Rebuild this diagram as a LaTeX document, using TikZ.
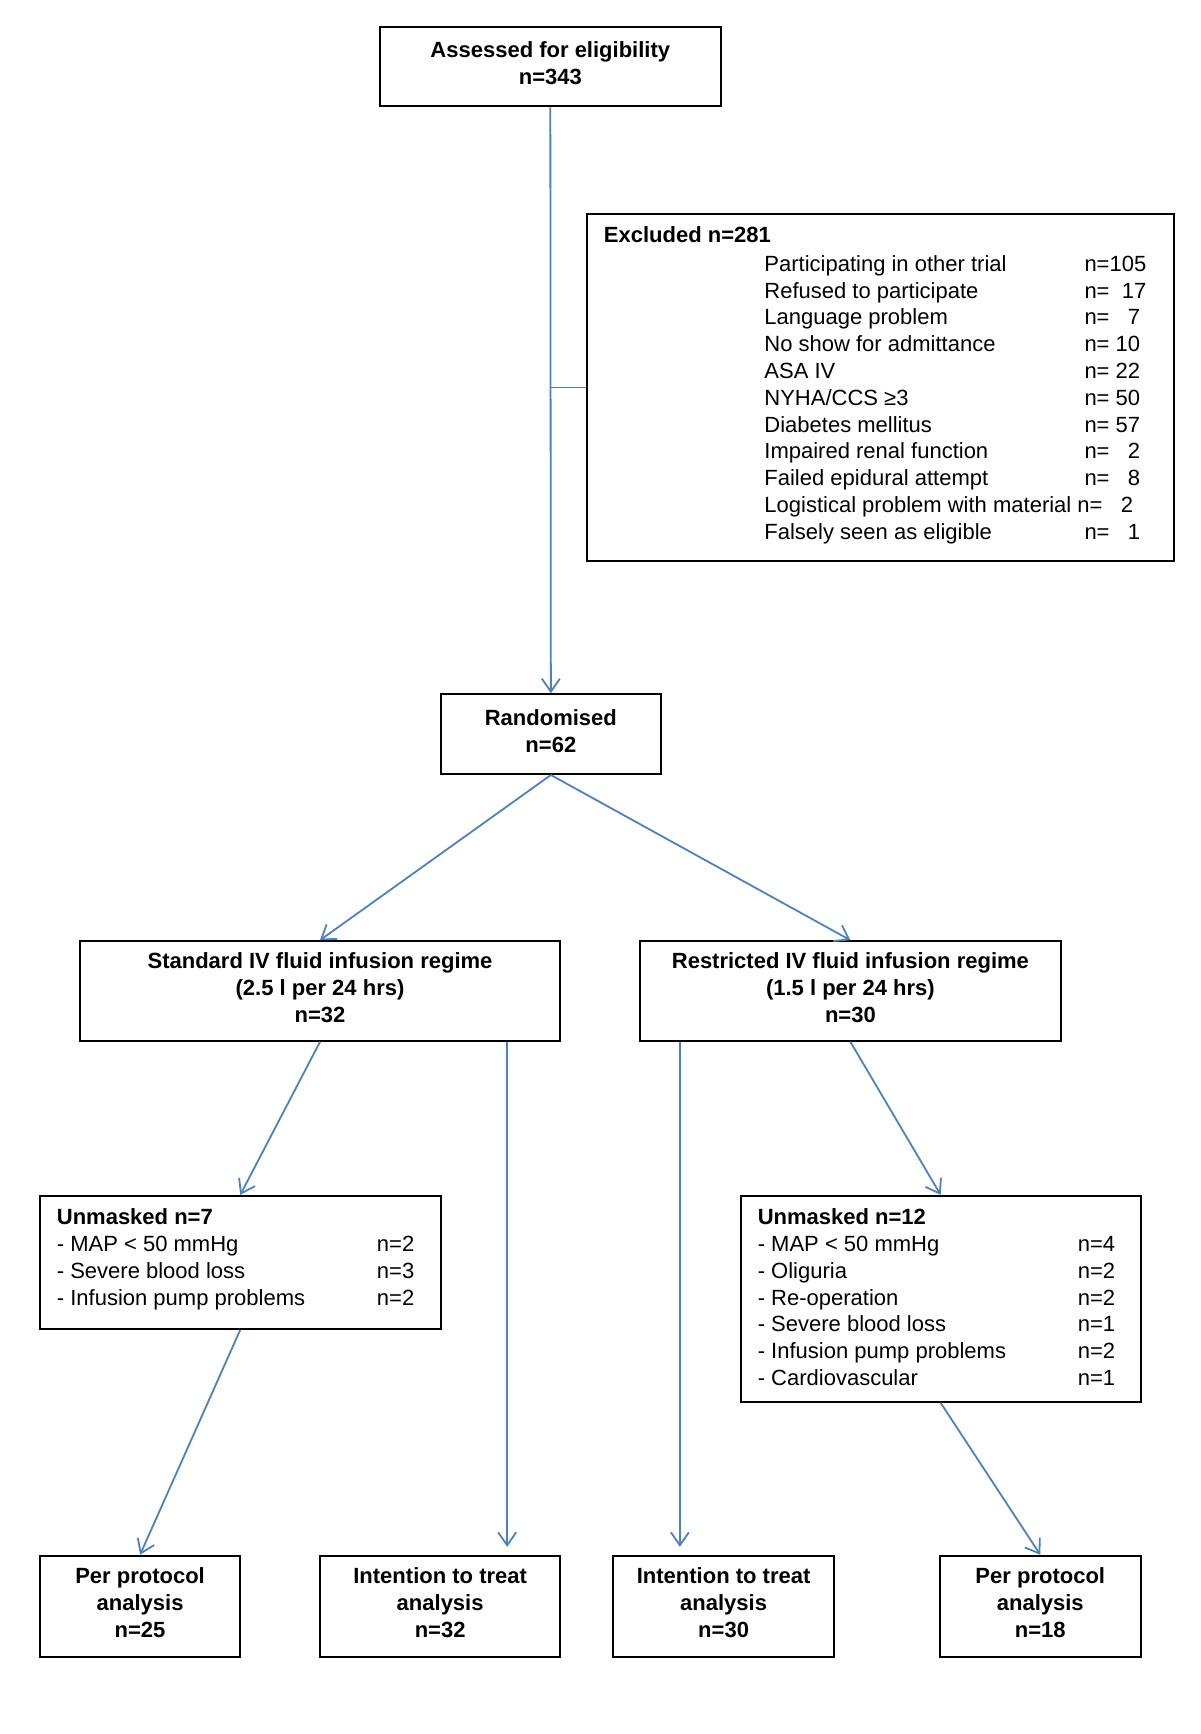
\documentclass[tikz,border=0pt]{standalone}
\usepackage{fontspec}
\setmainfont{Liberation Sans}
\usetikzlibrary{arrows.meta}
\def\pxu{0.5535pt}
\definecolor{lineblue}{HTML}{4F81BD}
\tikzset{
  box/.style={draw=black, line width=1pt, inner sep=0pt, align=center, text depth=3.5pt,
    font=\fontsize{11}{13.4}\selectfont\bfseries},
  listtext/.style={inner sep=0pt, anchor=base west, font=\fontsize{11}{13.4}\selectfont},
  conn/.style={draw=lineblue, line width=0.9pt},
  arr/.style={conn, -{Straight Barb[length=6.5pt,width=9pt,line width=0.9pt]}}
}
\begin{document}
\begin{tikzpicture}[x=\pxu, y=-\pxu]
\useasboundingbox[fill=white] (0,0) rectangle (1084,1566);
% boxes
\node[box, minimum width={308*\pxu}, minimum height={72*\pxu}] (ass) at (497,60) {Assessed for eligibility\\n=343};
\node[box, minimum width={530*\pxu}, minimum height={314*\pxu}] (excl) at (795,350) {};
\node[box, minimum width={199*\pxu}, minimum height={72*\pxu}] (rand) at (497.5,663) {Randomised\\n=62};
\node[box, minimum width={434*\pxu}, minimum height={90*\pxu}] (std) at (289,895) {Standard IV fluid infusion regime\\(2.5 l per 24 hrs)\\n=32};
\node[box, minimum width={380*\pxu}, minimum height={90*\pxu}] (res) at (768,895) {Restricted IV fluid infusion regime\\(1.5 l per 24 hrs)\\n=30};
\node[box, minimum width={362*\pxu}, minimum height={120*\pxu}] (um7) at (217,1140) {};
\node[box, minimum width={361*\pxu}, minimum height={186*\pxu}] (um12) at (849.5,1173) {};
\node[box, minimum width={181*\pxu}, minimum height={91*\pxu}] (pp25) at (126.5,1450.5) {Per protocol\\analysis\\n=25};
\node[box, minimum width={217*\pxu}, minimum height={91*\pxu}] (itt32) at (397.5,1450.5) {Intention to treat\\analysis\\n=32};
\node[box, minimum width={199*\pxu}, minimum height={91*\pxu}] (itt30) at (653.5,1450.5) {Intention to treat\\analysis\\n=30};
\node[box, minimum width={181*\pxu}, minimum height={91*\pxu}] (pp18) at (939.5,1450.5) {Per protocol\\analysis\\n=18};
% texts in list boxes
\node[listtext, font=\fontsize{11}{13.4}\selectfont\bfseries] (extitle) at (545,219) {Excluded n=281};
\node[listtext] (exlist) at (690,245) {\begin{tabular}[t]{@{}p{160pt}@{}l@{}}
Participating in other trial & n=105\\
Refused to participate & n=\ \ 17\\
Language problem & n=\ \ \ 7\\
No show for admittance & n= 10\\
ASA IV & n= 22\\
NYHA/CCS ≥3 & n= 50\\
Diabetes mellitus & n= 57\\
Impaired renal function & n=\ \ \ 2\\
Failed epidural attempt & n=\ \ \ 8\\
\multicolumn{2}{@{}l@{}}{Logistical problem with material n=\ \ \ 2}\\
Falsely seen as eligible & n=\ \ \ 1
\end{tabular}};
\node[listtext] (um7list) at (51,1106) {\begin{tabular}[t]{@{}p{160pt}@{}l@{}}
\multicolumn{2}{@{}l@{}}{\bfseries Unmasked n=7}\\
- MAP < 50 mmHg & n=2\\
- Severe blood loss & n=3\\
- Infusion pump problems & n=2
\end{tabular}};
\node[listtext] (um12list) at (684,1106) {\begin{tabular}[t]{@{}p{160pt}@{}l@{}}
\multicolumn{2}{@{}l@{}}{\bfseries Unmasked n=12}\\
- MAP < 50 mmHg & n=4\\
- Oliguria & n=2\\
- Re-operation & n=2\\
- Severe blood loss & n=1\\
- Infusion pump problems & n=2\\
- Cardiovascular & n=1
\end{tabular}};
% connectors
\coordinate (a1) at (458,1397);
\coordinate (a2) at (614,1397);
\draw[arr] (ass.south) -- (rand.north);
\draw[conn] (excl.west) -- (excl.west -| ass.south);
\draw[arr] (rand.south) -- (std.north);
\draw[arr] (rand.south) -- (res.north);
\draw[arr] (std.south) -- (um7.north);
\draw[arr] (res.south) -- (um12.north);
\draw[arr] (std.south -| a1) -- (a1);
\draw[arr] (res.south -| a2) -- (a2);
\draw[arr] (um7.south) -- (pp25.north);
\draw[arr] (um12.south) -- (pp18.north);
\end{tikzpicture}
\end{document}
